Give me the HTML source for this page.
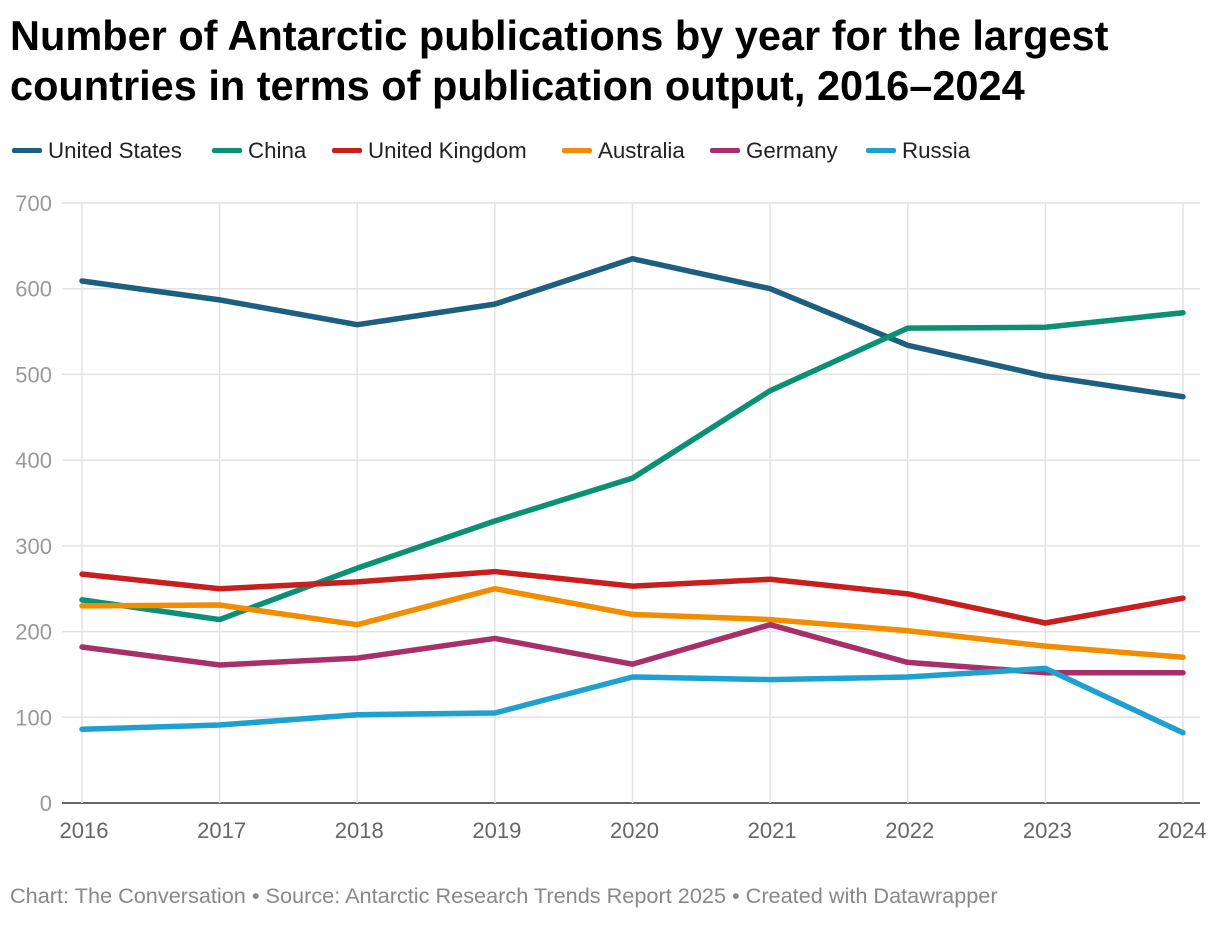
<!DOCTYPE html>
<html><head><meta charset="utf-8"><style>
body{margin:0;background:#fff;width:1220px;height:920px;overflow:hidden;font-family:"Liberation Sans",sans-serif}
</style></head><body>
<svg id="c" width="1220" height="920">
<text x="10" y="50" font-size="41.5" font-weight="bold" fill="#000">Number of Antarctic publications by year for the largest</text>
<text x="10" y="100" font-size="41.5" font-weight="bold" fill="#000">countries in terms of publication output, 2016–2024</text>
<g id="legend"></g>
<g id="grid"></g>
<g id="lines"></g>
<text x="10" y="903" font-size="21.7" fill="#888">Chart: The Conversation • Source: Antarctic Research Trends Report 2025 • Created with Datawrapper</text>
</svg>
<script>
const years=[2016,2017,2018,2019,2020,2021,2022,2023,2024];
const yTicks=[0,100,200,300,400,500,600,700];
const seriesNames=["United States","China","United Kingdom","Australia","Germany","Russia"];
const seriesColors=["#1d5f7e","#0a9173","#c81e1e","#f28c00","#a8306a","#1fa1d0"];
const usValues=[609,587,558,582,635,600,534,498,474];
const chinaValues=[237,214,274,329,379,481,554,555,572];
const ukValues=[267,250,258,270,253,261,244,210,239];
const australiaValues=[230,231,208,250,220,214,201,183,170];
const germanyValues=[182,161,169,192,162,208,164,152,152];
const russiaValues=[86,91,103,105,147,144,147,157,82];
const allValues=[usValues,chinaValues,ukValues,australiaValues,germanyValues,russiaValues];
const NS="http://www.w3.org/2000/svg";
const x=y=>82+(y-2016)*(1183-82)/8;
const yS=v=>803-v*600/700;
function mk(t,a,p,txt){const e=document.createElementNS(NS,t);for(const k in a)e.setAttribute(k,a[k]);if(txt!==undefined)e.textContent=txt;p.appendChild(e);return e;}
const g=document.getElementById('grid');
yTicks.forEach(v=>{
 const l=mk('line',{x1:62,x2:1200,y1:yS(v),y2:yS(v),stroke:v===0?'#333':'#e2e2e2','stroke-width':1.5},g);
 
 
 const t=mk('text',{x:52,y:yS(v)+8,'font-size':22,fill:'#999','text-anchor':'end'},g,v);
 
 
});
years.forEach((yr,i)=>{
 const l=mk('line',{x1:x(yr),x2:x(yr),y1:203,y2:803,stroke:'#e2e2e2','stroke-width':1.5},g);
 
 
 const t=mk('text',{x:x(yr)+(i===8?-1:2),y:838,'font-size':22,fill:'#666','text-anchor':'middle'},g,yr);
 
 
});
const lg=document.getElementById('legend');
const legX=[12,212,332,562,710,866];
seriesNames.forEach((n,i)=>{
 const r=mk('rect',{x:legX[i],y:148,width:30,height:5,rx:2,fill:seriesColors[i]},lg);
 
 
 const t=mk('text',{x:legX[i]+36,y:158,'font-size':22.3,fill:'#222'},lg,n);
 
 
});
const lines=document.getElementById('lines');
allValues.forEach((vals,i)=>{
 const p=mk('polyline',{points:vals.map((v,j)=>x(years[j])+','+yS(v)).join(' '),fill:'none',stroke:seriesColors[i],'stroke-width':5.5,'stroke-linejoin':'round','stroke-linecap':'round'},lines);
 
 
});
</script>
</body></html>
